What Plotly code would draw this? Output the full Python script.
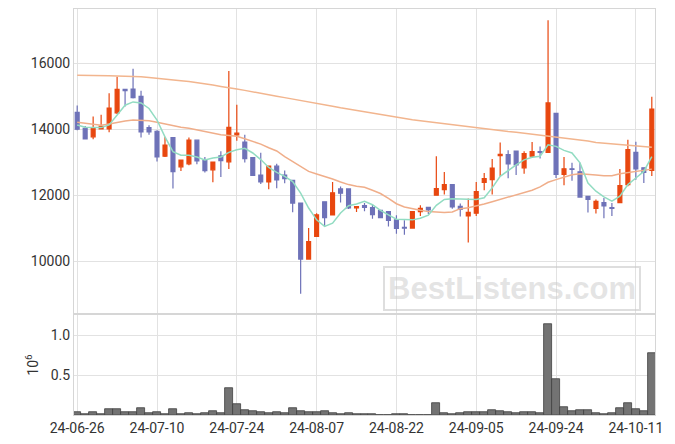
import plotly.graph_objects as go

dates = [
    "2024-06-26", "2024-06-27", "2024-06-28", "2024-07-01", "2024-07-02", "2024-07-03", "2024-07-04", "2024-07-05",
    "2024-07-08", "2024-07-09", "2024-07-10", "2024-07-11", "2024-07-12", "2024-07-15", "2024-07-16", "2024-07-17",
    "2024-07-18", "2024-07-19", "2024-07-22", "2024-07-23", "2024-07-24", "2024-07-25", "2024-07-26", "2024-07-29",
    "2024-07-30", "2024-07-31", "2024-08-01", "2024-08-02", "2024-08-05", "2024-08-06", "2024-08-07", "2024-08-08",
    "2024-08-09", "2024-08-12", "2024-08-13", "2024-08-14", "2024-08-16", "2024-08-19", "2024-08-20", "2024-08-21",
    "2024-08-22", "2024-08-23", "2024-08-26", "2024-08-27", "2024-08-28", "2024-08-29", "2024-08-30", "2024-09-02",
    "2024-09-03", "2024-09-04", "2024-09-05", "2024-09-06", "2024-09-09", "2024-09-10", "2024-09-11", "2024-09-12",
    "2024-09-13", "2024-09-19", "2024-09-20", "2024-09-23", "2024-09-24", "2024-09-25", "2024-09-26", "2024-09-27",
    "2024-09-30", "2024-10-02", "2024-10-04", "2024-10-07", "2024-10-08", "2024-10-10", "2024-10-11", "2024-10-14",
    "2024-10-15",
]

open_ = [14510, 14030, 13770, 14010, 14010, 14500, 15210, 15220, 15000, 14050, 13940, 13180, 13750, 12860, 12950, 13670,
         13060, 12770, 13190, 13010, 13830, 13610, 13140, 12610, 12400, 12880, 12610, 12450, 11760, 10060, 10750, 11800,
         11400, 12190, 12190, 11610, 11680, 11620, 11540, 11500, 11250, 11020, 11000, 11500, 11630, 12000, 12170, 12320,
         11660, 11370, 11450, 12390, 12470, 13200, 13230, 13340, 12830, 13180, 13320, 13300, 14480, 12630, 12800, 12710,
         11960, 11600, 11770, 11620, 11770, 12320, 13300, 12830, 12750]
high = [14720, 14100, 14390, 14440, 15090, 15590, 15220, 15840, 15170, 14120, 13970, 13770, 13750, 13060, 13750, 13670,
        13160, 13000, 13330, 15770, 14740, 13830, 13140, 13290, 12890, 12950, 12750, 12450, 11760, 11000, 11450, 11800,
        12400, 12260, 12190, 11650, 11760, 11710, 11540, 11500, 11390, 11240, 11500, 11690, 11630, 13180, 12700, 12320,
        11750, 11900, 12400, 12670, 13100, 13600, 13360, 13340, 13330, 13610, 13480, 17310, 14480, 13160, 12980, 12980,
        11960, 11870, 11910, 11760, 12790, 13680, 13620, 12830, 14990]
low = [13970, 13710, 13700, 13990, 13910, 14460, 14690, 14930, 13750, 13830, 13020, 13160, 12200, 12730, 12910, 12940,
       12690, 12390, 12550, 12790, 13650, 12990, 12600, 12340, 12180, 12210, 12360, 11480, 9010, 10060, 10750, 11030,
       11400, 11780, 11580, 11490, 11510, 11280, 11300, 11050, 10830, 10800, 11000, 11370, 11430, 12000, 12020, 11590,
       11350, 10560, 11370, 12150, 12020, 12570, 12510, 12610, 12650, 13130, 13110, 13300, 12520, 12300, 12440, 11940,
       11470, 11440, 11300, 11370, 11770, 12270, 12470, 12370, 12580]
close = [14000, 13710, 14030, 14090, 14640, 15210, 15170, 14960, 13920, 13920, 13160, 13520, 12710, 13060, 13670, 13040,
         12740, 13000, 13050, 14060, 13880, 13110, 12600, 12400, 12880, 12460, 12500, 11760, 10060, 10590, 11400, 11320,
         12070, 12060, 11610, 11650, 11630, 11410, 11320, 11230, 10990, 11000, 11500, 11600, 11550, 12200, 12320, 11640,
         11570, 11480, 12110, 12500, 12820, 13240, 12950, 12920, 13260, 13320, 13300, 14800, 12630, 12800, 12780, 11940,
         11870, 11810, 11670, 11600, 12290, 13380, 12800, 12690, 14610]

ma5 = [14130, 14060, 14050, 14050, 14130, 14430, 14730, 14830, 14800, 14630, 14280, 13770, 13320, 13210, 13210, 13160,
       13070, 13130, 13160, 13300, 13380, 13420, 13280, 13080, 12840, 12690, 12570, 12410, 12060, 11610, 11250, 11050,
       11150, 11460, 11680, 11730, 11810, 11710, 11540, 11400, 11270, 11260, 11250, 11300, 11390, 11690, 11870, 11890,
       11890, 11880, 11870, 11920, 12220, 12570, 12750, 12920, 13070, 13150, 13180, 13530, 13480, 13360, 13280, 12980,
       12370, 12120, 11950, 11820, 11970, 12320, 12520, 12720, 13170]
ma20 = [14210, 14180, 14130, 14120, 14160, 14210, 14250, 14280, 14280, 14260, 14210, 14160, 14100, 14060, 14030, 13980,
        13930, 13880, 13830, 13810, 13790, 13710, 13640, 13550, 13440, 13340, 13170, 13020, 12870, 12720, 12640, 12570,
        12490, 12400, 12320, 12270, 12240, 12150, 12050, 11900, 11740, 11640, 11580, 11540, 11500, 11490, 11470, 11490,
        11590, 11620, 11670, 11730, 11800, 11870, 11940, 12010, 12070, 12150, 12250, 12390, 12470, 12550, 12620, 12650,
        12620, 12610, 12590, 12590, 12650, 12690, 12720, 12750, 12790]
ma_long = [15640, 15640, 15635, 15630, 15625, 15615, 15610, 15600, 15595, 15570, 15540, 15520, 15500, 15470, 15450, 15420,
           15380, 15340, 15300, 15250, 15220, 15180, 15130, 15090, 15040, 15000, 14960, 14920, 14870, 14830, 14790, 14740,
           14700, 14650, 14610, 14570, 14520, 14480, 14440, 14390, 14350, 14310, 14290, 14260, 14230, 14200, 14170, 14130,
           14100, 14060, 14030, 14010, 13980, 13960, 13930, 13910, 13880, 13860, 13830, 13810, 13780, 13740, 13710, 13670,
           13640, 13600, 13580, 13550, 13530, 13500, 13480, 13460, 13450]

volume_m = [0.037, 0.008, 0.037, 0.017, 0.079, 0.079, 0.037, 0.037, 0.091, 0.025, 0.037, 0.012, 0.079, 0.008, 0.025, 0.012,
            0.025, 0.050, 0.025, 0.336, 0.141, 0.066, 0.054, 0.037, 0.025, 0.037, 0.025, 0.087, 0.054, 0.037, 0.037, 0.050,
            0.025, 0.008, 0.025, 0.008, 0.012, 0.012, 0.004, 0.002, 0.012, 0.012, 0.002, 0.002, 0.002, 0.149, 0.025, 0.012,
            0.025, 0.037, 0.037, 0.037, 0.062, 0.050, 0.037, 0.025, 0.037, 0.037, 0.025, 1.145, 0.448, 0.100, 0.050, 0.062,
            0.062, 0.025, 0.012, 0.025, 0.087, 0.149, 0.079, 0.054, 0.784]

tick_dates = ["2024-06-26", "2024-07-10", "2024-07-24", "2024-08-07", "2024-08-22", "2024-09-05", "2024-09-24", "2024-10-11"]
tick_labels = ["24-06-26", "24-07-10", "24-07-24", "24-08-07", "24-08-22", "24-09-05", "24-09-24", "24-10-11"]
price_ticks = [10000, 12000, 14000, 16000]

UP = "#E8470F"
DOWN = "#6E72B8"
GRID = "#e2e2e2"
FRAME = "#d6d6d6"
TXT = "#333333"

fig = go.Figure()

fig.add_trace(go.Candlestick(
    x=dates, open=open_, high=high, low=low, close=close,
    increasing=dict(line=dict(color=UP, width=1.2), fillcolor=UP),
    decreasing=dict(line=dict(color=DOWN, width=1.2), fillcolor=DOWN),
    whiskerwidth=0, xaxis="x", yaxis="y", showlegend=False, hoverinfo="skip",
))
fig.add_trace(go.Scatter(x=dates, y=ma_long, mode="lines", line=dict(color="#F2B58E", width=1.5),
                         xaxis="x", yaxis="y", showlegend=False, hoverinfo="skip"))
fig.add_trace(go.Scatter(x=dates, y=ma20, mode="lines", line=dict(color="#F0AE8A", width=1.5),
                         xaxis="x", yaxis="y", showlegend=False, hoverinfo="skip"))
fig.add_trace(go.Scatter(x=dates, y=ma5, mode="lines", line=dict(color="#92DCC2", width=1.5),
                         xaxis="x", yaxis="y", showlegend=False, hoverinfo="skip"))

fig.add_trace(go.Bar(x=dates, y=volume_m, marker=dict(color="#737373", line=dict(color="#404040", width=0.8)),
                     xaxis="x2", yaxis="y2", showlegend=False, hoverinfo="skip"))

xrange = [-0.4, 72.4]
common_x = dict(type="category", range=xrange, showgrid=True, gridcolor=GRID, gridwidth=1,
                tickmode="array", tickvals=tick_dates, ticktext=tick_labels, automargin=False,
                showline=True, linecolor=FRAME, mirror=True, zeroline=False, ticks="")

fig.update_layout(
    width=675, height=444,
    margin=dict(l=74, r=20, t=9, b=29, autoexpand=False),
    paper_bgcolor="white", plot_bgcolor="white",
    font=dict(family="Roboto, sans-serif", size=14, color=TXT),
    bargap=0,
    showlegend=False,
    xaxis=dict(**common_x, domain=[0, 1], anchor="y", showticklabels=False, rangeslider=dict(visible=False)),
    xaxis2=dict(**common_x, domain=[0, 1], anchor="y2", matches="x", showticklabels=True,
                tickfont=dict(size=14, color=TXT)),
    yaxis=dict(domain=[0.251, 1], range=[8420, 17650], tickvals=price_ticks, ticktext=[str(v) for v in price_ticks],
               showgrid=True, gridcolor=GRID, showline=True, linecolor=FRAME, mirror=True, zeroline=False,
               ticks="", tickfont=dict(size=14, color=TXT), automargin=False),
    yaxis2=dict(domain=[0, 0.246], range=[0, 1.257], tickvals=[0.5, 1.0], ticktext=["0.5", "1.0"],
                showgrid=True, gridcolor=GRID, showline=True, linecolor=FRAME, mirror=True, zeroline=False,
                ticks="", tickfont=dict(size=14, color=TXT), automargin=False,
                title=dict(text="10<sup>6</sup>", font=dict(size=14, color=TXT), standoff=8)),
    annotations=[dict(
        text="<b>BestListens.com</b>", xref="paper", yref="paper", x=0.754, y=0.3116,
        xanchor="center", yanchor="middle", showarrow=False,
        font=dict(family="Liberation Sans, Arial, sans-serif", size=31, color="rgba(205,205,205,0.55)"),
        bordercolor="rgba(200,200,200,0.6)", borderwidth=2, borderpad=3,
    )],
)

fig.write_html("out.html", config={"displayModeBar": False},
               post_script="document.body.style.margin='0';document.body.style.padding='0';")
